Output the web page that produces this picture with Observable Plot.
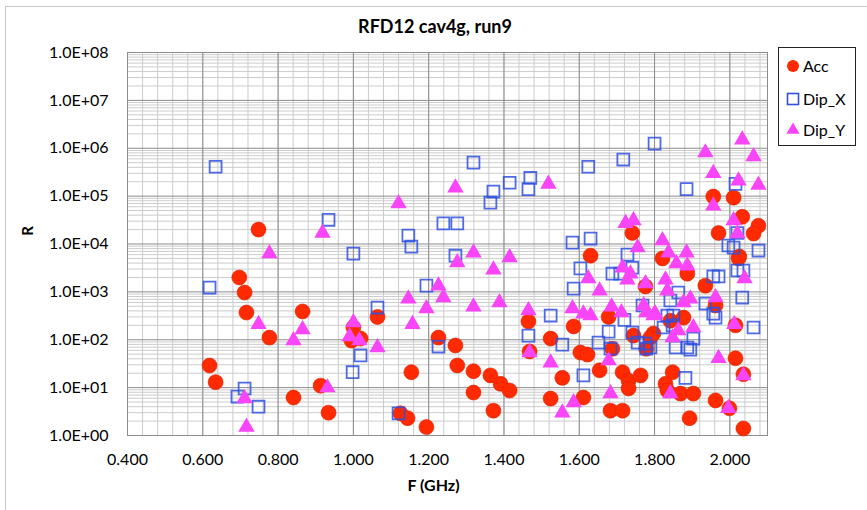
<!DOCTYPE html>
<html><head><meta charset="utf-8">
<script src="https://cdn.jsdelivr.net/npm/d3@7"></script>
<script src="https://cdn.jsdelivr.net/npm/@observablehq/plot@0.6"></script>
<style>
body{margin:0;background:#fff;font-family:Lato,"Open Sans",sans-serif;}
#wrap{position:relative;width:867px;height:510px;overflow:hidden;background:#fff;}
#chart{position:absolute;left:0;top:0;}
.abs{position:absolute;color:#000;white-space:nowrap;}
#title{left:0;width:870px;top:15px;text-align:center;font-weight:bold;font-size:18px;}
#xlab{left:0;width:867px;top:475px;text-align:center;font-weight:bold;font-size:16px;}
#ylab{left:22px;top:222px;font-weight:bold;font-size:15px;transform:rotate(-90deg);transform-origin:center;}
#legend{left:778px;top:47px;width:78px;height:99px;border:1px solid #222;box-sizing:border-box;background:#fff;}
#border{left:5px;top:6px;width:900px;height:600px;border-left:1px solid #c8c8c8;border-top:1px solid #c8c8c8;}
</style></head><body>
<div id="wrap">
<div class="abs" id="border"></div>
<div id="chart"></div>
<div class="abs" id="title">RFD12 cav4g, run9</div>
<div class="abs" id="xlab">F (GHz)</div>
<div class="abs" id="ylab">R</div>
<div class="abs" id="legend"></div>
</div>
<script>
// ---- data ----
const seriesNames = ["Acc", "Dip_X", "Dip_Y"];

const accF = [0.748,0.697,0.711,0.716,0.777,0.865,0.618,0.634,0.841,0.913,0.934,1.064,1.465,1.468,1.524,1.524,
  1.000,0.995,1.019,1.154,1.125,1.144,1.194,1.226,1.271,1.276,1.319,1.319,1.364,1.391,1.415,1.372,
  1.956,2.010,1.741,2.033,2.076,1.970,2.063,2.025,1.821,1.887,2.023,1.935,1.962,1.842,1.877,2.015,
  2.015,1.848,2.036,1.829,1.834,1.869,1.903,1.962,1.999,1.893,2.036,1.630,1.776,1.678,1.585,1.744,
  1.603,1.622,1.688,1.778,1.797,1.654,1.715,1.731,1.731,1.763,1.555,1.611,1.683,1.715,1.789];
const accR = [20000,2000,970,370,111,390,29,13,6.2,11,3.0,300,240,57,106,5.9,
  180,96,106,21,2.9,2.3,1.5,111,76,29,22,7.9,18,12,8.7,3.3,
  98000,93000,17000,37000,24000,17000,16500,5500,5000,2400,5000,1350,520,250,290,200,
  41,21,19,12,8.7,7.5,7.5,5.4,3.7,2.3,1.4,5700,1300,300,190,122,
  54,49,65,65,135,23,21,14,9.6,18,16,6.2,3.3,3.3,111];

const dipXF = [0.618,0.711,0.692,0.748,0.634,0.934,1.146,1.154,1.000,1.271,1.194,1.064,1.524,1.465,1.019,0.998,
  1.120,1.226,1.239,1.276,1.319,1.372,1.364,1.415,1.470,1.465,1.624,1.717,1.800,1.885,2.015,1.582,
  1.630,1.996,2.010,2.076,2.020,2.036,1.956,1.970,1.863,1.842,1.935,2.033,1.962,1.956,1.834,1.850,
  1.824,1.848,1.903,2.063,1.856,1.887,1.895,1.789,1.882,2.020,1.728,1.603,1.688,1.709,1.741,1.585,
  1.768,1.720,1.555,1.678,1.741,1.651,1.683,1.755,1.776,1.778,1.611];
const dipXR = [1230,9.6,6.5,4.0,410000,32000,15000,8800,6300,5700,1350,470,320,122,47,21,
  2.9,72,27000,27000,500000,124000,73000,190000,240000,140000,410000,580000,1250000,140000,180000,10700,
  13000,9300,8400,7300,2800,2800,2100,2100,970,660,570,760,290,350,320,320,
  180,200,106,180,69,69,62,69,16,17000,6000,3100,2400,2400,3200,1170,
  520,260,79,148,141,87,65,87,83,65,18];

const dipYF = [0.918,0.777,0.748,0.865,0.841,0.931,0.711,0.716,1.276,1.319,1.415,1.372,1.226,1.239,1.146,1.194,
  1.319,1.388,1.157,1.465,1.468,1.524,1.000,0.990,1.016,1.064,1.120,1.271,1.518,1.935,1.956,2.033,
  2.063,2.023,2.076,1.956,2.010,1.723,1.744,2.020,1.821,1.837,1.885,1.858,1.887,2.039,1.829,1.834,
  1.895,1.877,1.962,1.802,1.903,1.863,1.848,2.012,1.970,2.036,1.842,1.996,1.755,1.715,1.736,1.728,
  1.624,1.654,1.776,1.771,1.778,1.797,1.582,1.611,1.630,1.686,1.712,1.678,1.585,1.555,1.683];
const dipYR = [17000,6300,210,163,96,10,5.9,1.5,4100,6600,5200,2900,1350,760,720,450,
  490,600,210,410,54,33,230,117,96,69,70000,150000,180000,810000,300000,1500000,
  670000,210000,170000,63000,31000,27000,31000,16500,11800,6600,6600,3900,3500,1900,1800,1060,
  720,600,760,350,180,156,111,210,41,18,7.5,3.7,8400,3200,2400,1800,
  1900,1060,1500,520,370,320,450,350,320,490,370,37,4.9,3.0,7.5];

const xTicks = [0.4,0.6,0.8,1.0,1.2,1.4,1.6,1.8,2.0];
const yTicks = [1,10,100,1e3,1e4,1e5,1e6,1e7,1e8];

const acc = accF.map((f,i)=>({F:f,R:accR[i]}));
const dipX = dipXF.map((f,i)=>({F:f,R:dipXR[i]}));
const dipY = dipYF.map((f,i)=>({F:f,R:dipYR[i]}));

const xMinor = d3.range(0, 43).map(i => +(0.4 + i*0.04).toFixed(2)).filter(v => v <= 2.1);
const yMinor = [];
for (let d = 0; d < 8; d++) for (let k = 2; k <= 9; k++) yMinor.push(k*Math.pow(10,d));

const COL_ACC = "#ff2a00", COL_X = "#2f50e0", COL_Y = "#f745f7";

const chart = Plot.plot({
  width: 867, height: 510,
  marginLeft: 127, marginRight: 100, marginTop: 52, marginBottom: 75,
  style: {fontFamily: "Lato, 'Open Sans', sans-serif", fontSize: "16px", color: "#000", background: "transparent"},
  x: {domain: [0.4, 2.1], label: null},
  y: {type: "log", domain: [1, 1e8], label: null},
  marks: [
    Plot.ruleX(xMinor, {stroke: "#cccccc", strokeWidth: 1}),
    Plot.ruleY(yMinor, {stroke: "#cccccc", strokeWidth: 1}),
    Plot.ruleX(xTicks, {stroke: "#8c8c8c", strokeWidth: 1}),
    Plot.ruleY(yTicks, {stroke: "#8c8c8c", strokeWidth: 1}),
    Plot.frame({stroke: "#8c8c8c"}),
    Plot.axisX({ticks: xTicks, tickSize: 0, tickPadding: 18, tickFormat: d3.format(".3f"), fontSize: 16}),
    Plot.axisY({ticks: yTicks, tickSize: 0, tickPadding: 19, fontSize: 16,
      tickFormat: d => "1.0E+" + String(Math.round(Math.log10(d))).padStart(2, "0")}),
    Plot.dot(acc, {x: "F", y: "R", r: 7.5, fill: COL_ACC, stroke: "#d92400", strokeWidth: 0.6}),
    Plot.dot(dipX, {x: "F", y: "R", symbol: "square", r: 6.7, fill: "none", stroke: COL_X, strokeWidth: 1.8, strokeOpacity: 0.85}),
    Plot.dot(dipY, {x: "F", y: "R", symbol: "triangle", r: 6.1, fill: COL_Y})
  ]
});
document.getElementById("chart").appendChild(chart);

// legend
const items = [
  {name: seriesNames[0], sym: "circle"},
  {name: seriesNames[1], sym: "square"},
  {name: seriesNames[2], sym: "triangle"}
];
const lg = d3.select("#legend").append("svg").attr("width", 76).attr("height", 97);
items.forEach((it, i) => {
  const cy = [18, 51, 82][i];
  const g = lg.append("g").attr("transform", `translate(14,${cy})`);
  if (it.sym === "circle") g.append("circle").attr("r", 6).attr("fill", COL_ACC);
  else if (it.sym === "square") g.append("rect").attr("x", -5.5).attr("y", -5.5).attr("width", 11).attr("height", 11).attr("fill", "none").attr("stroke", COL_X).attr("stroke-width", 1.6);
  else g.append("path").attr("d", d3.symbol(d3.symbolTriangle, 75)()).attr("fill", COL_Y);
  lg.append("text").attr("x", 24).attr("y", cy + 6).attr("font-size", 16)
    .attr("font-family", "Lato, 'Open Sans', sans-serif").text(it.name);
});
</script>
</body></html>
